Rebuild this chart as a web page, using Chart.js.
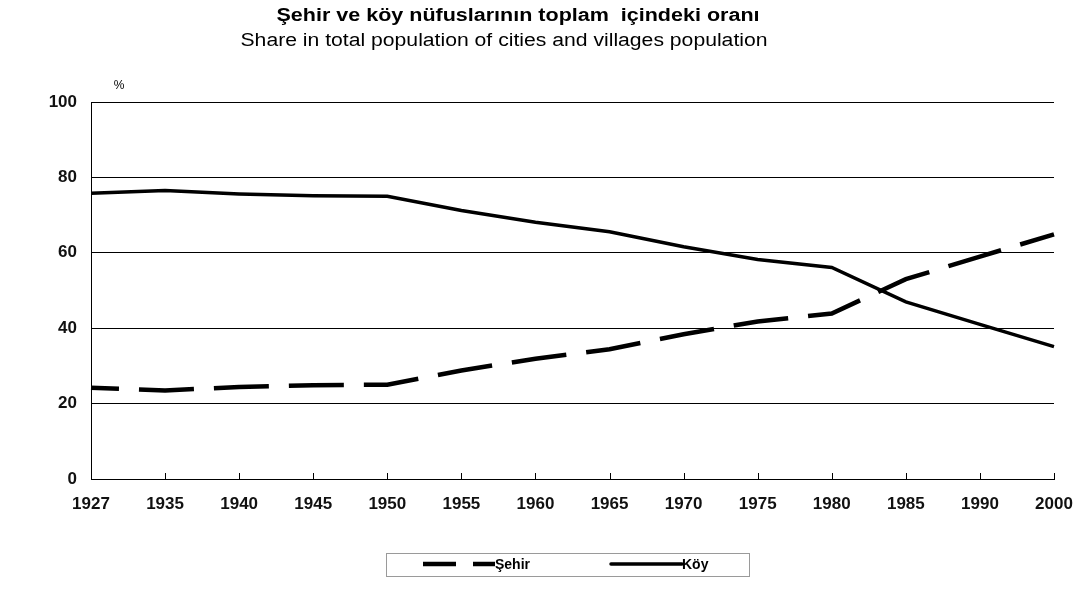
<!DOCTYPE html>
<html>
<head>
<meta charset="utf-8">
<script src="https://cdn.jsdelivr.net/npm/chart.js@4"></script>
<style>
  html, body { margin: 0; padding: 0; background: #fff; }
  #wrap { width: 1088px; height: 610px; }
</style>
</head>
<body>
<div id="wrap"><canvas id="chart" width="1088" height="610"></canvas></div>
<script>
const titleTr = 'Şehir ve köy nüfuslarının toplam  içindeki oranı';
const titleEn = 'Share in total population of cities and villages population';
const unitLabel = '%';

const years = ['1927', '1935', '1940', '1945', '1950', '1955', '1960', '1965', '1970', '1975', '1980', '1985', '1990', '2000'];
const sehir = [24.2, 23.5, 24.4, 24.9, 25.0, 28.8, 31.9, 34.4, 38.4, 41.8, 43.9, 53.0, 59.0, 64.9];
const koy = [75.8, 76.5, 75.6, 75.1, 75.0, 71.2, 68.1, 65.6, 61.6, 58.2, 56.1, 47.0, 41.0, 35.1];
const yTicks = [0, 20, 40, 60, 80, 100];

const FONT = '"Liberation Sans", Arial, sans-serif';

// text squeezed/stretched sideways to a given width, like the original's wide title font
function wideText(ctx, text, cx, cy, width) {
  const w = ctx.measureText(text).width;
  ctx.save();
  ctx.translate(cx, cy);
  ctx.scale(width / w, 1);
  ctx.fillText(text, 0, 0);
  ctx.restore();
}

// titles, % label, inner x ticks and boxed legend
const extras = {
  id: 'extras',
  afterDatasetsDraw(chart) {
    const ctx = chart.ctx;
    const x = chart.scales.x;
    const area = chart.chartArea;
    ctx.save();
    ctx.strokeStyle = '#000';
    ctx.lineWidth = 1;
    for (let i = 1; i < x.ticks.length; i++) {
      const px = Math.round(x.getPixelForTick(i)) + 0.5;
      ctx.beginPath();
      ctx.moveTo(px, area.bottom);
      ctx.lineTo(px, area.bottom - 6);
      ctx.stroke();
    }
    ctx.restore();
  },
  afterDraw(chart) {
    const ctx = chart.ctx;
    ctx.save();
    ctx.fillStyle = '#000';
    ctx.textAlign = 'center';
    ctx.textBaseline = 'middle';
    ctx.font = 'bold 18px ' + FONT;
    wideText(ctx, titleTr, 518, 16, 483);
    ctx.font = '18px ' + FONT;
    wideText(ctx, titleEn, 504, 41, 527);
    ctx.font = '12px ' + FONT;
    ctx.fillText(unitLabel, 119, 86);

    // legend
    ctx.strokeStyle = '#9a9a9a';
    ctx.lineWidth = 1;
    ctx.strokeRect(386.5, 553.5, 363, 23);
    const ds = chart.data.datasets;
    const items = [
      { d: ds[0], x0: 423, x1: 495, dash: [33, 17] },
      { d: ds[1], x0: 611, x1: 682, dash: [] }
    ];
    ctx.textAlign = 'left';
    ctx.font = 'bold 14px ' + FONT;
    items.forEach(it => {
      ctx.strokeStyle = it.d.borderColor;
      ctx.lineWidth = it.d.borderWidth;
      ctx.lineCap = it.dash.length ? 'butt' : 'round';
      ctx.setLineDash(it.dash);
      ctx.beginPath();
      ctx.moveTo(it.x0, 564);
      ctx.lineTo(it.x1, 564);
      ctx.stroke();
      ctx.setLineDash([]);
      ctx.fillText(it.d.label, it.x1, 565);
    });
    ctx.restore();
  }
};

const ctx = document.getElementById('chart').getContext('2d');
const myChart = new Chart(ctx, {
  type: 'line',
  data: {
    labels: years,
    datasets: [
      {
        label: 'Şehir',
        data: sehir,
        borderColor: '#000',
        borderWidth: 4.5,
        borderDash: [55, 20],
        borderDashOffset: 27,
        pointRadius: 0,
        tension: 0,
        fill: false
      },
      {
        label: 'Köy',
        data: koy,
        borderColor: '#000',
        borderWidth: 3.5,
        pointRadius: 0,
        tension: 0,
        fill: false
      }
    ]
  },
  options: {
    responsive: false,
    animation: false,
    layout: { padding: { top: 102, right: 34, bottom: 91, left: 0 } },
    plugins: {
      legend: { display: false },
      title: { display: false },
      tooltip: { enabled: false }
    },
    scales: {
      x: {
        grid: { display: false, drawTicks: false },
        border: { display: true, color: '#000', width: 1 },
        ticks: {
          color: '#111',
          font: { family: FONT, size: 17, weight: 'bold' },
          padding: 15,
          maxRotation: 0,
          autoSkip: false
        },
        afterFit(scale) { scale.height = 40; }
      },
      y: {
        min: 0,
        max: 100,
        afterBuildTicks(scale) { scale.ticks = yTicks.map(v => ({ value: v })); },
        grid: { color: '#000', lineWidth: 1, drawTicks: false },
        border: { display: true, color: '#000', width: 1 },
        ticks: {
          color: '#111',
          font: { family: FONT, size: 17, weight: 'bold' },
          padding: 14
        },
        afterFit(scale) { scale.width = 91; }
      }
    }
  },
  plugins: [extras]
});
</script>
</body>
</html>
